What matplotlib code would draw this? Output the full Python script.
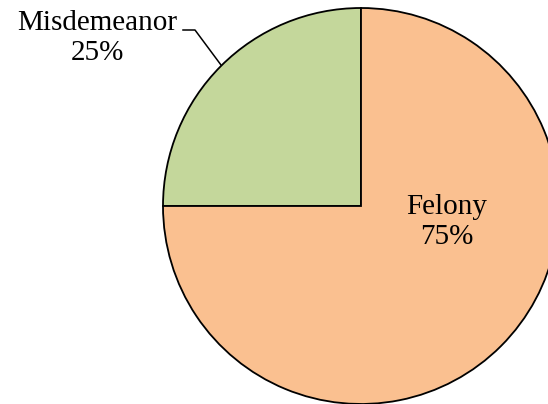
import matplotlib
matplotlib.use("Agg")
import matplotlib.pyplot as plt

categories = ["Misdemeanor", "Felony"]
values = [25, 75]
colors = ["#C4D79B", "#FAC090"]

W, H = 548, 404
fig = plt.figure(figsize=(W / 100, H / 100), dpi=100)
ax = fig.add_axes([0, 0, 1, 1])

cx, cy, r = 361, H - 206, 198
ax.pie(values, colors=colors, startangle=90, counterclock=True,
       center=(cx, cy), radius=r, frame=True,
       wedgeprops=dict(edgecolor="black", linewidth=1.3))
ax.set_xlim(0, W)
ax.set_ylim(0, H)
ax.set_aspect("equal")
ax.axis("off")

total = sum(values)
font = dict(family="Liberation Serif", fontsize=21, color="black")
ax.text(97, H - 38, f"{categories[0]}\n{round(values[0] / total * 100)}%",
        ha="center", va="center", linespacing=1.2, **font)
ax.text(447, H - 222, f"{categories[1]}\n{round(values[1] / total * 100)}%",
        ha="center", va="center", linespacing=1.15, **font)

ax.plot([183, 195, 221], [H - 30, H - 30, H - 65], color="black", lw=1.1)

fig.savefig("out.png", dpi=100)
